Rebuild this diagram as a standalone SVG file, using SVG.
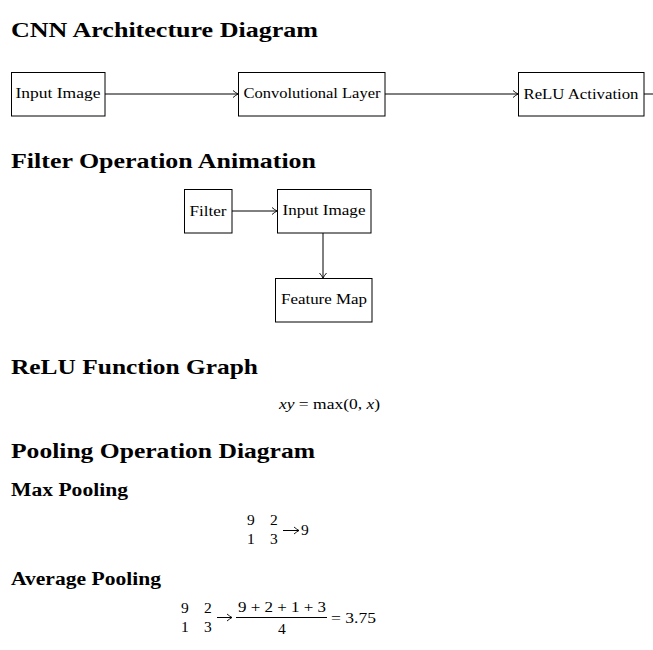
<svg xmlns="http://www.w3.org/2000/svg" width="653" height="650" viewBox="0 0 653 650">
<style>
.h1{font-family:"Liberation Serif","DejaVu Serif",serif;font-weight:bold;font-size:22px;fill:#000}
.h2{font-family:"Liberation Serif","DejaVu Serif",serif;font-weight:bold;font-size:18px;fill:#000}
.t{font-family:"Liberation Serif","DejaVu Serif",serif;font-size:14.5px;fill:#000;text-anchor:middle}
.m{font-family:"Liberation Serif","DejaVu Serif",serif;font-size:15.5px;fill:#000}
.mi{font-style:italic}
.box{fill:#fff;stroke:#000;stroke-width:1}
.con{stroke:#000;stroke-width:1;fill:none}
</style>
<defs>
<marker id="arr" markerWidth="8" markerHeight="10" refX="6" refY="5" orient="auto" markerUnits="userSpaceOnUse">
<path d="M1,1.5 Q4,4 6,5 Q4,6 1,8.5" fill="none" stroke="#000" stroke-width="0.9"/>
</marker>
</defs>
<rect width="653" height="650" fill="#fff"/>

<text class="h1" x="11" y="37" textLength="307" lengthAdjust="spacingAndGlyphs">CNN Architecture Diagram</text>
<text class="h1" x="11" y="168" textLength="305" lengthAdjust="spacingAndGlyphs">Filter Operation Animation</text>
<text class="h1" x="11" y="374" textLength="247" lengthAdjust="spacingAndGlyphs">ReLU Function Graph</text>
<text class="h1" x="11" y="458" textLength="304" lengthAdjust="spacingAndGlyphs">Pooling Operation Diagram</text>
<text class="h2" x="11" y="496" textLength="117" lengthAdjust="spacingAndGlyphs">Max Pooling</text>
<text class="h2" x="11" y="585" textLength="150" lengthAdjust="spacingAndGlyphs">Average Pooling</text>

<g id="connectors">
<line class="con" x1="105" y1="94" x2="238" y2="94" marker-end="url(#arr)"/>
<line class="con" x1="385" y1="94" x2="518" y2="94" marker-end="url(#arr)"/>
<line class="con" x1="644" y1="94" x2="653" y2="94"/>
<line class="con" x1="232" y1="211" x2="277" y2="211" marker-end="url(#arr)"/>
<line class="con" x1="323" y1="233" x2="323" y2="278" marker-end="url(#arr)"/>
</g>

<g id="cnn-input">
<rect class="box" x="11.5" y="72.5" width="93.5" height="43.5"/>
<text class="t" x="58" y="98" textLength="85" lengthAdjust="spacingAndGlyphs">Input Image</text>
</g>
<g id="cnn-conv">
<rect class="box" x="238.5" y="72.5" width="146.5" height="43.5"/>
<text class="t" x="312" y="98" textLength="137" lengthAdjust="spacingAndGlyphs">Convolutional Layer</text>
</g>
<g id="cnn-relu">
<rect class="box" x="518.5" y="72.5" width="125.5" height="43.5"/>
<text class="t" x="581" y="99" textLength="115" lengthAdjust="spacingAndGlyphs">ReLU Activation</text>
</g>

<g id="filter">
<rect class="box" x="184.5" y="189.5" width="47.5" height="43.5"/>
<text class="t" x="208" y="216" textLength="37" lengthAdjust="spacingAndGlyphs">Filter</text>
</g>
<g id="filter-input">
<rect class="box" x="277.5" y="189.5" width="93.5" height="43.5"/>
<text class="t" x="324" y="215" textLength="83" lengthAdjust="spacingAndGlyphs">Input Image</text>
</g>
<g id="feature-map">
<rect class="box" x="275.5" y="278.5" width="96.5" height="43.5"/>
<text class="t" x="324" y="304" textLength="86" lengthAdjust="spacingAndGlyphs">Feature Map</text>
</g>

<g id="relu-formula">
<text class="m" x="279" y="409" textLength="101" lengthAdjust="spacingAndGlyphs"><tspan class="mi">xy</tspan> = max(0, <tspan class="mi">x</tspan>)</text>
</g>

<g id="max-pooling">
<text class="m" x="247" y="525">9</text>
<text class="m" x="270" y="525">2</text>
<text class="m" x="247" y="544">1</text>
<text class="m" x="270" y="544">3</text>
<line class="con" x1="283" y1="530.5" x2="299" y2="530.5" marker-end="url(#arr)"/>
<text class="m" x="301" y="535">9</text>
</g>

<g id="avg-pooling">
<text class="m" x="181" y="613">9</text>
<text class="m" x="204" y="613">2</text>
<text class="m" x="181" y="632">1</text>
<text class="m" x="204" y="632">3</text>
<line class="con" x1="217" y1="617.5" x2="232" y2="617.5" marker-end="url(#arr)"/>
<text class="m" x="238" y="612" textLength="88" lengthAdjust="spacingAndGlyphs">9 + 2 + 1 + 3</text>
<line x1="236" y1="617.5" x2="327" y2="617.5" stroke="#000" stroke-width="1"/>
<text class="m" x="278" y="634">4</text>
<text class="m" x="331" y="623" textLength="45" lengthAdjust="spacingAndGlyphs">= 3.75</text>
</g>
</svg>
